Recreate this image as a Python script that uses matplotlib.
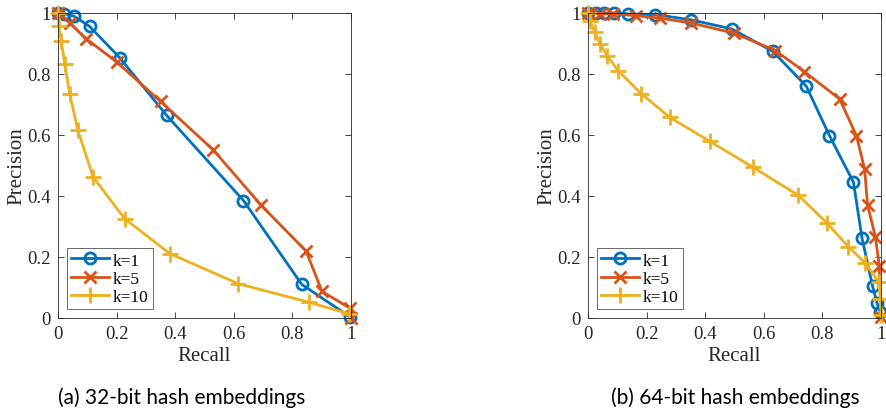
import matplotlib
matplotlib.use("Agg")
import matplotlib.pyplot as plt

# precision-recall values
r32_k1 = [0.0, 0.02, 0.054, 0.108, 0.211, 0.371, 0.633, 0.832, 0.998]
p32_k1 = [1.0, 0.998, 0.99, 0.956, 0.853, 0.664, 0.385, 0.110, 0.003]
r32_k5 = [0.0, 0.04, 0.097, 0.202, 0.35, 0.53, 0.692, 0.847, 0.901, 0.995, 1.0]
p32_k5 = [1.0, 0.967, 0.915, 0.838, 0.71, 0.551, 0.371, 0.219, 0.087, 0.033, 0.0]
r32_k10 = [0.0, 0.002, 0.011, 0.023, 0.04, 0.068, 0.12, 0.228, 0.382, 0.616, 0.855, 0.992]
p32_k10 = [1.0, 0.958, 0.909, 0.833, 0.735, 0.615, 0.462, 0.325, 0.211, 0.112, 0.052, 0.014]

r64_k1 = [0.0, 0.029, 0.054, 0.088, 0.137, 0.228, 0.35, 0.49, 0.631, 0.745, 0.824, 0.906,
          0.935, 0.971, 0.986, 0.998]
p64_k1 = [1.0, 1.0, 1.0, 1.0, 0.997, 0.995, 0.978, 0.948, 0.874, 0.76, 0.598, 0.445,
          0.263, 0.105, 0.05, 0.02]
r64_k5 = [0.0, 0.04, 0.086, 0.165, 0.247, 0.353, 0.498, 0.639, 0.738, 0.859, 0.916, 0.944,
          0.954, 0.981, 0.994, 1.0]
p64_k5 = [1.0, 0.997, 0.997, 0.991, 0.983, 0.967, 0.934, 0.877, 0.808, 0.718, 0.598, 0.489,
          0.371, 0.265, 0.172, 0.003]
r64_k10 = [0.0, 0.006, 0.023, 0.042, 0.065, 0.103, 0.182, 0.279, 0.416, 0.562, 0.718, 0.815,
           0.889, 0.946, 0.992, 0.998, 1.0]
p64_k10 = [1.0, 0.975, 0.937, 0.898, 0.86, 0.811, 0.735, 0.658, 0.579, 0.495, 0.402, 0.312,
           0.233, 0.181, 0.118, 0.063, 0.01]

series_names = ["k=1", "k=5", "k=10"]
tick_vals = [0, 0.2, 0.4, 0.6, 0.8, 1]
tick_labels = ["0", "0.2", "0.4", "0.6", "0.8", "1"]
captions = ["(a) 32-bit hash embeddings", "(b) 64-bit hash embeddings"]

colors = ["#0072BD", "#D95319", "#EDB120"]
markers = ["o", "x", "+"]
msizes = [8, 9, 12]

fig = plt.figure(figsize=(8.86, 4.14), dpi=100)
ax1 = fig.add_axes([58 / 886, 95 / 414, 293 / 886, 305 / 414])
ax2 = fig.add_axes([588 / 886, 95 / 414, 293 / 886, 305 / 414])

panels = [
    (ax1, [(r32_k1, p32_k1), (r32_k5, p32_k5), (r32_k10, p32_k10)]),
    (ax2, [(r64_k1, p64_k1), (r64_k5, p64_k5), (r64_k10, p64_k10)]),
]

serif = "Liberation Serif"
for ax, data in panels:
    for (r, p), name, c, m, ms in zip(data, series_names, colors, markers, msizes):
        ax.plot(r, p, color=c, lw=2, marker=m, ms=ms, mew=2, mfc="none",
                label=name, clip_on=False)
    ax.set_xlim(0, 1)
    ax.set_ylim(0, 1)
    ax.set_xticks(tick_vals)
    ax.set_xticklabels(tick_labels, fontfamily=serif, fontsize=13.5)
    ax.set_yticks(tick_vals)
    ax.set_yticklabels(tick_labels, fontfamily=serif, fontsize=13.5)
    ax.tick_params(direction="in", top=True, right=True, length=4, width=0.6,
                   color="#262626", labelcolor="#262626", pad=5)
    for s in ax.spines.values():
        s.set_linewidth(0.6)
        s.set_color("#262626")
    ax.set_xlabel("Recall", fontfamily=serif, fontsize=15, color="#262626", labelpad=3)
    ax.set_ylabel("Precision", fontfamily=serif, fontsize=15, color="#262626", labelpad=1)
    leg = ax.legend(loc="lower left", prop={"family": serif, "size": 12.5},
                    frameon=True, fancybox=False, edgecolor="#262626",
                    borderaxespad=0.5, handlelength=2.2, handletextpad=0.2,
                    borderpad=0.25, labelspacing=0.12)
    leg.get_frame().set_linewidth(0.6)

fig.text(182 / 886, 1 - 398 / 414, captions[0], ha="center", va="center",
         fontfamily="Lato", fontsize=15)
fig.text(735 / 886, 1 - 398 / 414, captions[1], ha="center", va="center",
         fontfamily="Lato", fontsize=15)

fig.savefig("out.png", dpi=100)
